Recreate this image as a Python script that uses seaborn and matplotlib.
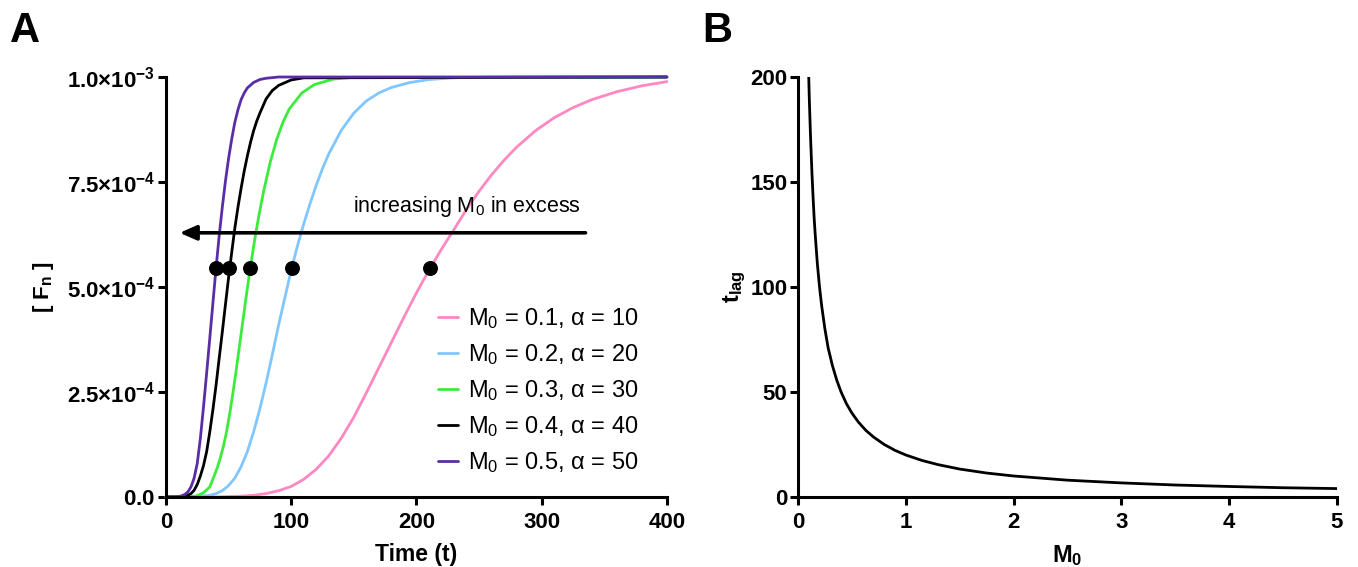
import pandas as pd
import matplotlib
matplotlib.use("Agg")
import matplotlib.pyplot as plt
import seaborn as sns

# curve values (F in units of 1e-3)
t_pink = [0, 40, 60, 70, 80, 90, 100, 110, 120, 130, 140, 150, 160, 170, 180, 190, 200, 210, 220, 230,
          240, 250, 260, 270, 280, 295, 310, 325, 340, 360, 380, 400]
f_pink = [0, 0, 0.002, 0.004, 0.008, 0.015, 0.025, 0.042, 0.066, 0.098, 0.140, 0.190, 0.248, 0.308,
          0.368, 0.428, 0.486, 0.540, 0.590, 0.637, 0.685, 0.728, 0.767, 0.802, 0.833, 0.872, 0.903,
          0.927, 0.946, 0.965, 0.979, 0.989]
t_blue = [0, 25, 35, 40, 45, 50, 55, 60, 65, 70, 75, 80, 85, 90, 95, 100, 105, 110, 115, 120, 125, 130,
          140, 150, 160, 170, 180, 195, 210, 230, 260, 400]
f_blue = [0, 0.001, 0.004, 0.008, 0.015, 0.027, 0.045, 0.072, 0.108, 0.155, 0.210, 0.272, 0.340, 0.410,
          0.475, 0.540, 0.598, 0.650, 0.698, 0.742, 0.782, 0.817, 0.873, 0.914, 0.943, 0.962, 0.975,
          0.987, 0.994, 0.998, 1.0, 1.0]
t_green = [0, 18, 25, 30, 35, 38.5, 41, 43.5, 46, 48.5, 51, 53.5, 56, 58.5, 61, 63.5, 66, 68.5, 71, 73.5,
           76, 78.5, 83.5, 88.5, 93.5, 98.5, 108.5, 118.5, 133.5, 148.5, 400]
f_green = [0, 0, 0.003, 0.010, 0.024, 0.050, 0.070, 0.094, 0.122, 0.157, 0.200, 0.248, 0.300, 0.355,
           0.410, 0.465, 0.518, 0.568, 0.615, 0.658, 0.698, 0.735, 0.800, 0.852, 0.893, 0.924, 0.962,
           0.982, 0.995, 0.999, 1.0]
t_black = [0, 12, 16, 20, 22.5, 25, 27.5, 30, 32.5, 35, 37.5, 40, 42.5, 45, 47.5, 50, 52.5, 55, 57.5, 60,
           62.5, 65, 67.5, 70, 72.5, 75, 80, 85, 90, 100, 110, 400]
f_black = [0, 0, 0.002, 0.008, 0.016, 0.030, 0.050, 0.075, 0.108, 0.155, 0.208, 0.266, 0.330, 0.393,
           0.458, 0.522, 0.582, 0.640, 0.690, 0.735, 0.776, 0.812, 0.844, 0.872, 0.895, 0.914, 0.948,
           0.968, 0.980, 0.993, 0.998, 1.0]
t_purple = [0, 8, 12, 15, 17.5, 20, 22.5, 25, 27.5, 30, 32.5, 35, 37.5, 40, 42.5, 45, 47.5, 50, 52.5, 55,
            57.5, 60, 62.5, 65, 70, 75, 80, 90, 400]
f_purple = [0, 0, 0.002, 0.006, 0.012, 0.024, 0.045, 0.080, 0.140, 0.215, 0.295, 0.378, 0.462, 0.545,
            0.622, 0.690, 0.752, 0.806, 0.852, 0.892, 0.922, 0.946, 0.962, 0.974, 0.987, 0.994, 0.997,
            1.0, 1.0]

labels = [r"M$_0$ = 0.1, α = 10", r"M$_0$ = 0.2, α = 20", r"M$_0$ = 0.3, α = 30",
          r"M$_0$ = 0.4, α = 40", r"M$_0$ = 0.5, α = 50"]
colors = ["#FF88C2", "#80C6FF", "#3DEB3D", "#000000", "#5A2DA6"]

dot_t = [40, 50, 67, 101, 211]
dot_f = [0.545, 0.545, 0.545, 0.545, 0.545]

# panel B: lag time vs M0
m0 = [0.1, 0.105, 0.11, 0.115, 0.12, 0.13, 0.14, 0.15, 0.16, 0.18, 0.2, 0.22, 0.25, 0.28, 0.32, 0.36,
      0.4, 0.45, 0.5, 0.56, 0.63, 0.7, 0.8, 0.9, 1.0, 1.15, 1.3, 1.5, 1.75, 2.0, 2.5, 3.0, 3.5, 4.0,
      4.5, 5.0]
tlag = [200, 190, 182, 174, 167, 154, 143, 133, 125, 111, 100, 91, 80, 71, 62.5, 55.6, 50, 44.4, 40,
        35.7, 31.7, 28.6, 25, 22.2, 20, 17.4, 15.4, 13.3, 11.4, 10, 8, 6.7, 5.7, 5, 4.4, 4]

sns.set_style("ticks")
plt.rcParams["font.family"] = ["Liberation Sans", "DejaVu Sans"]
plt.rcParams["mathtext.fontset"] = "custom"
plt.rcParams["mathtext.rm"] = "Liberation Sans"
plt.rcParams["mathtext.sf"] = "Liberation Sans"
plt.rcParams["mathtext.it"] = "Liberation Sans:italic"
plt.rcParams["mathtext.bf"] = "Liberation Sans:bold"
plt.rcParams["mathtext.default"] = "regular"
for key in ["text.color", "axes.labelcolor", "xtick.color", "ytick.color", "axes.edgecolor"]:
    plt.rcParams[key] = "black"

frames = []
for tt, ff, lab in zip([t_pink, t_blue, t_green, t_black, t_purple],
                       [f_pink, f_blue, f_green, f_black, f_purple], labels):
    frames.append(pd.DataFrame({"t": tt, "F": [v * 1e-3 for v in ff], "curve": lab}))
df = pd.concat(frames, ignore_index=True)

fig = plt.figure(figsize=(13.58, 5.67), dpi=100)
ax1 = fig.add_axes([0.1222, 0.1235, 0.3689, 0.7407])
ax2 = fig.add_axes([0.5876, 0.1235, 0.3969, 0.7407])

sns.lineplot(data=df, x="t", y="F", hue="curve", hue_order=labels, palette=colors,
             estimator=None, sort=False, lw=2.0, ax=ax1)
for ln in ax1.lines:
    ln.set_clip_on(False)
ax1.scatter(dot_t, [v * 1e-3 for v in dot_f], s=95, color="black", zorder=5, clip_on=False)

ax1.annotate("", xy=(11, 0.629e-3), xytext=(335, 0.629e-3),
             arrowprops=dict(arrowstyle="-|>,head_length=0.5,head_width=0.22", lw=2.6,
                             color="black", mutation_scale=20, shrinkA=0, shrinkB=0))
ax1.text(240, 0.692e-3, r"increasing M$_0$ in excess", ha="center", va="center", fontsize=15.5)

ax1.set_xlim(0, 400)
ax1.set_ylim(0, 1e-3)
ax1.set_xticks([0, 100, 200, 300, 400])
ax1.set_yticks([0, 2.5e-4, 5e-4, 7.5e-4, 1e-3])
ax1.set_yticklabels([r"$\mathbf{0.0}$", r"$\mathbf{2.5{\times}10^{-4}}$", r"$\mathbf{5.0{\times}10^{-4}}$",
                     r"$\mathbf{7.5{\times}10^{-4}}$", r"$\mathbf{1.0{\times}10^{-3}}$"])
ax1.set_xlabel("Time (t)", fontsize=16.5, fontweight="bold", labelpad=7)
ax1.set_ylabel(r"$\mathbf{[\ F_n\ ]}$", fontsize=16, labelpad=8)

leg = ax1.legend(loc="upper left", bbox_to_anchor=(0.543, 0.455), frameon=False, fontsize=17,
                 handlelength=0.85, handletextpad=0.42, labelspacing=0.47, borderpad=0, borderaxespad=0)
for h in leg.get_lines():
    h.set_linewidth(2.0)

sns.lineplot(x=m0, y=tlag, color="black", lw=2.0, estimator=None, sort=False, ax=ax2)
ax2.set_xlim(0, 5)
ax2.set_ylim(0, 200)
ax2.set_xticks([0, 1, 2, 3, 4, 5])
ax2.set_yticks([0, 50, 100, 150, 200])
ax2.set_xlabel(r"$\mathbf{M_0}$", fontsize=17, labelpad=7)
ax2.set_ylabel(r"$\mathbf{t_{lag}}$", fontsize=17, labelpad=2)

for ax in (ax1, ax2):
    sns.despine(ax=ax)
    for sp in ("left", "bottom"):
        ax.spines[sp].set_linewidth(2.2)
    ax.tick_params(direction="out", length=6, width=2.2, labelsize=16)
    ax.tick_params(axis="x", pad=5)
    ax.tick_params(axis="y", pad=1.5)
    for lab in ax.get_xticklabels() + ax.get_yticklabels():
        lab.set_fontweight("bold")

fig.text(0.007, 0.98, "A", fontsize=30, fontweight="bold", va="top", ha="left")
fig.text(0.517, 0.98, "B", fontsize=30, fontweight="bold", va="top", ha="left")

fig.savefig("out.png", dpi=100)
